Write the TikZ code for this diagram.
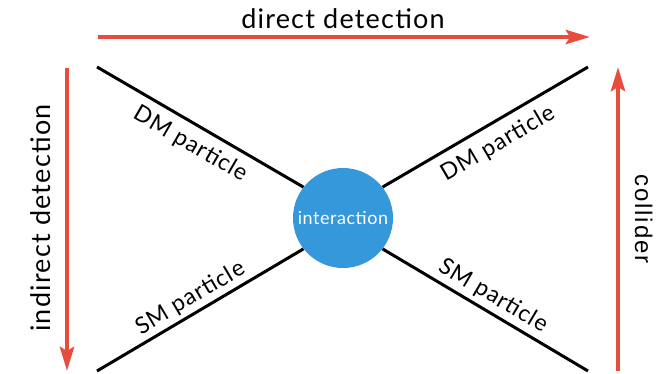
\documentclass[tikz,border=0pt]{standalone}
\usepackage{fontspec}
\setmainfont{Lato}
\newfontfamily\tfont{Lato}[LetterSpace=4.5]
\newfontfamily\lfont{Lato}[LetterSpace=4]
\newfontfamily\ifont{Lato}[LetterSpace=3]
\newfontfamily\colfont{Liberation Sans}[LetterSpace=8]
\usetikzlibrary{arrows.meta}
\definecolor{arrred}{RGB}{231,76,60}
\definecolor{ballblue}{RGB}{52,152,219}
\begin{document}
\begin{tikzpicture}[x=1pt,y=-1pt,
  flow/.style={draw=arrred, line width=4.5pt, -{Stealth[length=24pt,width=14pt,inset=4pt]}},
  leg/.style={line width=3pt, draw=black},
  title/.style={font=\tfont\fontsize{27}{31}\selectfont, inner sep=0pt, anchor=base},
  plabel/.style={font=\lfont\fontsize{23}{27}\selectfont, sloped, inner sep=0pt},
]
\useasboundingbox (0,0) rectangle (659,373);
\node[circle, fill=ballblue, minimum size=100pt, inner sep=0pt,
      font=\ifont\fontsize{18}{21}\selectfont, text=white] (c) at (343,218) {interaction};
\coordinate (tl) at (97,67);
\coordinate (tr) at (588,67);
\coordinate (bl) at (97,371);
\coordinate (br) at (588,371);
\draw[leg] (tl) -- (c.142) node[plabel, pos=0.5, below=8pt] (l1) {DM particle};
\draw[leg] (c.38) -- (tr) node[plabel, pos=0.51, below=9pt] (l2) {DM particle};
\draw[leg] (bl) -- (c.218) node[plabel, pos=0.49, above=3pt] (l3) {SM particle};
\draw[leg] (c.322) -- (br) node[plabel, pos=0.5, above=4pt] (l4) {SM particle};
% arrows
\coordinate (ts) at (98,37);
\coordinate (te) at (590,37);
\coordinate (ls) at (67,68);
\coordinate (le) at (67,371);
\coordinate (rs) at (618,371);
\coordinate (re) at (618,67);
\draw[flow] (ts) -- (te);
\draw[flow] (ls) -- (le);
\draw[flow] (rs) -- (re);
\node[title] (t1) at (343,28) {direct detection};
\node[title, rotate=90] (t2) at (50,218) {indirect detection};
\node[title, rotate=-90, font=\colfont\fontsize{24}{28}\selectfont] (t3) at (635,219) {collider};
\end{tikzpicture}
\end{document}
